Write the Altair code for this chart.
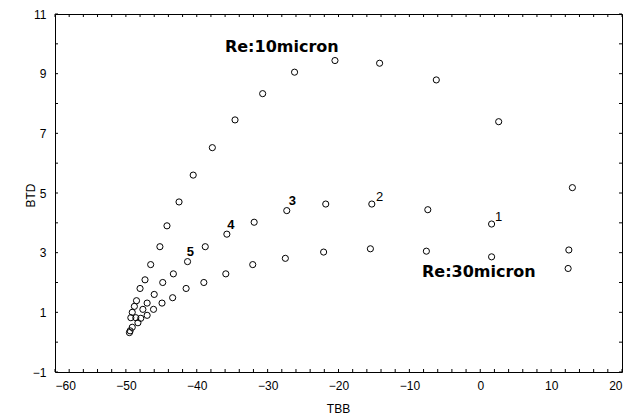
import altair as alt
import pandas as pd

# Re:10micron series (upper)
tbb_10 = [13.0, 2.6, -6.2, -14.2, -20.5, -26.2, -30.7, -34.6, -37.8, -40.5, -42.5,
          -44.2, -45.2, -46.5, -47.3, -48.0, -48.5, -48.8, -49.1, -49.3, -49.4]
btd_10 = [5.18, 7.39, 8.79, 9.35, 9.44, 9.05, 8.33, 7.45, 6.52, 5.60, 4.70,
          3.90, 3.20, 2.60, 2.09, 1.80, 1.39, 1.20, 1.00, 0.82, 0.38]

# middle series (numbered points 1-5)
tbb_mid = [12.5, 1.6, -7.4, -15.3, -21.8, -27.3, -31.9, -35.75, -38.8, -41.3, -43.3,
           -44.8, -46.0, -47.0, -47.6, -48.6, -49.1]
btd_mid = [3.09, 3.96, 4.44, 4.63, 4.63, 4.41, 4.02, 3.62, 3.20, 2.70, 2.29,
           2.00, 1.60, 1.31, 1.10, 0.82, 0.50]

# Re:30micron series (lower)
tbb_30 = [12.4, 1.6, -7.6, -15.5, -22.1, -27.5, -32.1, -35.9, -39.0, -41.5, -43.4,
          -44.9, -46.1, -47.0, -47.9, -48.3, -49.5]
btd_30 = [2.47, 2.86, 3.05, 3.13, 3.02, 2.81, 2.60, 2.29, 2.00, 1.80, 1.49,
          1.31, 1.10, 0.90, 0.80, 0.65, 0.32]

# numbered labels
num_text = ["1", "2", "3", "4", "5"]
num_x = [2.6, -14.2, -26.5, -35.2, -40.9]
num_y = [4.20, 4.88, 4.73, 3.94, 3.02]
num_bold = [False, False, True, True, True]

# series annotations
ann_text = ["Re:10micron", "Re:30micron"]
ann_x = [-28.0, -0.2]
ann_y = [9.89, 2.36]

x_ticks = [-60, -50, -40, -30, -20, -10, 0, 10, 20]
y_ticks = [-1, 1, 3, 5, 7, 9, 11]
x_minor = list(range(-60, 21, 2))
y_minor = list(range(-1, 12, 1))

pts = pd.concat([
    pd.DataFrame({"TBB": tbb_10, "BTD": btd_10, "series": "Re10"}),
    pd.DataFrame({"TBB": tbb_mid, "BTD": btd_mid, "series": "mid"}),
    pd.DataFrame({"TBB": tbb_30, "BTD": btd_30, "series": "Re30"}),
])
nums = pd.DataFrame({"TBB": num_x, "BTD": num_y, "t": num_text, "b": num_bold})
anns = pd.DataFrame({"TBB": ann_x, "BTD": ann_y, "t": ann_text})

xs = alt.Scale(domain=[-60, 20], nice=False, zero=False)
ys = alt.Scale(domain=[-1, 11], nice=False, zero=False)

xax = alt.Axis(values=x_ticks, title="TBB", grid=False, ticks=False, domain=False,
               labelPadding=8, labelFontSize=12, titleFontSize=12,
               titleFontWeight="normal", titleX=283, titleY=40, titleBaseline="alphabetic")
yax = alt.Axis(values=y_ticks, title="BTD", grid=False, ticks=False, domain=False,
               labelPadding=9, labelFontSize=12, titleFontSize=12,
               titleFontWeight="normal", titleX=-21, titleY=181, titleBaseline="alphabetic")

points = alt.Chart(pts).mark_point(shape="circle", filled=False, color="black",
                                   size=38, strokeWidth=1, opacity=1).encode(
    x=alt.X("TBB:Q", scale=xs, axis=xax),
    y=alt.Y("BTD:Q", scale=ys, axis=yax),
)

num_bold_layer = alt.Chart(nums).transform_filter("datum.b").mark_text(
    font="Liberation Sans", fontSize=13, fontWeight="bold", color="black").encode(
    x=alt.X("TBB:Q", scale=xs), y=alt.Y("BTD:Q", scale=ys), text="t:N")
num_plain_layer = alt.Chart(nums).transform_filter("!datum.b").mark_text(
    font="Liberation Sans", fontSize=13, fontWeight="normal", color="black").encode(
    x=alt.X("TBB:Q", scale=xs), y=alt.Y("BTD:Q", scale=ys), text="t:N")

ann_layer = alt.Chart(anns).mark_text(font="DejaVu Sans", fontSize=16,
                                      fontWeight="bold", color="black").encode(
    x=alt.X("TBB:Q", scale=xs), y=alt.Y("BTD:Q", scale=ys), text="t:N")

xdf = pd.DataFrame({"v": x_minor})
ydf = pd.DataFrame({"v": y_minor})
xt_bot = alt.Chart(xdf).mark_rule(color="black", strokeWidth=1).encode(
    x=alt.X("v:Q", scale=xs), y=alt.value(358), y2=alt.value(355))
xt_top = alt.Chart(xdf).mark_rule(color="black", strokeWidth=1).encode(
    x=alt.X("v:Q", scale=xs), y=alt.value(0), y2=alt.value(3))
yt_left = alt.Chart(ydf).mark_rule(color="black", strokeWidth=1).encode(
    y=alt.Y("v:Q", scale=ys), x=alt.value(0), x2=alt.value(3))
yt_right = alt.Chart(ydf).mark_rule(color="black", strokeWidth=1).encode(
    y=alt.Y("v:Q", scale=ys), x=alt.value(567), x2=alt.value(564))

chart = alt.layer(points, num_bold_layer, num_plain_layer, ann_layer,
                  xt_bot, xt_top, yt_left, yt_right).properties(
    width=567, height=358,
    padding={"left": 55, "top": 14, "right": 11, "bottom": 42},
    autosize=alt.AutoSizeParams(type="none"),
    background="white",
).configure_view(stroke="black", strokeWidth=1).configure_axis(
    labelFont="Liberation Sans", titleFont="Liberation Sans",
    labelColor="black", titleColor="black",
)

chart.save("out.html", embed_options={"renderer": "svg", "actions": False})
